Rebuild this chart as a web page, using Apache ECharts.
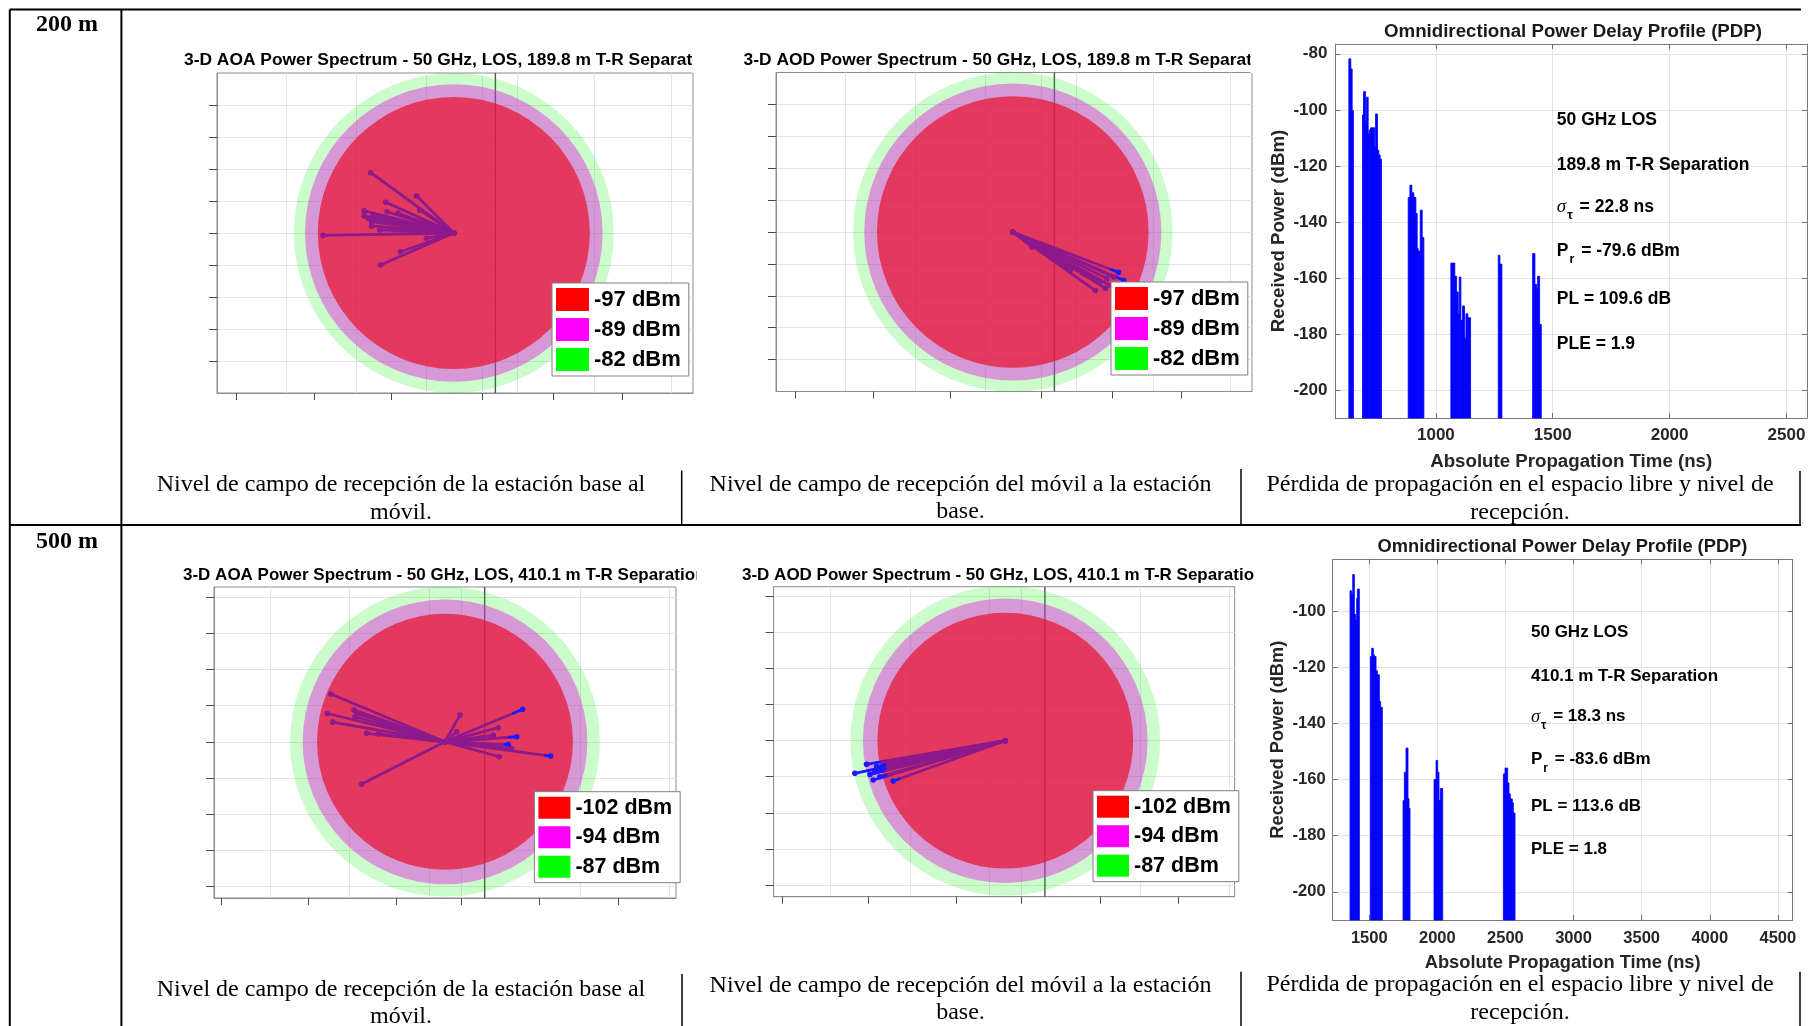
<!DOCTYPE html>
<html lang="es">
<head>
<meta charset="utf-8">
<title>Espectro de potencia 3-D y perfil de retardo – 50 GHz LOS</title>
<script src="https://cdn.jsdelivr.net/npm/echarts@6.0.0/dist/echarts.min.js"></script>
<style>
html,body{margin:0;padding:0;background:#fff;}
#chart{width:1808px;height:1026px;}
</style>
</head>
<body>
<div id="chart"></div>
<script>
// ---------------- data ----------------
// Contour levels of the 3-D power spectra (dBm): inner (red), middle (magenta), outer (green)
const ringLevels200 = [-97, -89, -82];
const ringLevels500 = [-102, -94, -87];
// Power mapped to zero radius in each spectrum plot (dBm)
const radiusFloor200 = -182;
const radiusFloor500 = -173;

// Multipath rays: [x, y, fraction of the ray from which it lies in front of the inner surface]
const aoaRays200 = [
  [-51.9, 37.7, 1], [-23.3, 23.3, 1], [-42.5, 19.2, 1], [-56.0, 13.8, 1], [-56.0, 10.6, 1],
  [-41.7, 13.3, 1], [-51.5, 4.4, 1], [-81.7, -1.5, 1], [-46.3, 1.9, 1], [-33.3, -11.7, 1],
  [-45.8, -20.0, 1], [-17.1, -3.3, 1], [-53.5, 9.2, 1], [-50.4, 11.3, 1], [-34.8, 12.3, 1],
  [-27.5, 4.4, 1], [-51.4, 7.1, 1], [-21.3, 14.4, 1]
];
const aodRays200 = [
  [66.1, -25.3, 0.93], [69.3, -30.3, 0.93], [57.8, -35.2, 1], [51.6, -36.7, 1], [60.9, -33.4, 1],
  [12.0, -9.4, 1], [35.9, -24.0, 1], [54.7, -31.3, 1], [63.0, -28.2, 1], [44.3, -26.0, 1],
  [58.9, -29.2, 1]
];
const aoaRays500 = [
  [-63.4, 26.5, 1], [-65.3, 15.7, 1], [-62.3, 10.9, 1], [-50.5, 17.6, 1], [-49.0, 15.7, 1],
  [-49.9, 13.9, 1], [-37.0, 4.3, 1], [-46.2, -23.5, 1], [8.3, 14.8, 1], [43.1, 18.0, 0.88],
  [39.8, 2.8, 0.9], [35.1, -1.5, 0.94], [58.6, -7.9, 0.95], [30.1, -8.3, 1], [29.6, 7.8, 1],
  [6.5, 5.6, 1], [37.0, -3.7, 1], [26.8, 3.7, 1], [-43.5, 4.7, 1]
];
const aodRays500 = [
  [-83.5, -18.1, 0.8], [-77.0, -13.1, 0.87], [-73.3, -21.8, 0.9], [-62.2, -22.4, 0.95],
  [-75.1, -18.7, 0.9], [-67.7, -12.2, 1], [-72.4, -17.2, 0.92], [-69.6, -20.0, 0.95],
  [-56.6, -10.7, 1], [-64.0, -15.3, 1], [-71.4, -14.4, 0.93]
];

// Tick values of the 3-D views
const spatialTicks = [-80, -60, -40, -20, 0, 20, 40, 60, 80];
const xTicks200 = [-136, -87, -39, 18, 62, 105];
const xGrid200 = [-105, -61, -17.5, 18, 39.5, 88, 136];
const zAxis200 = 26;
const xTicks500 = [-124, -76, -27, 9, 52.5, 96];
const xGrid500 = [-97, -53, -9, 9, 75, 124.5];
const zAxis500 = 22;

// Power delay profiles: [start (ns), end (ns), received power (dBm)]
const pdp200 = [
  [627.5, 636, -81.8], [636, 641.8, -85.4], [641.8, 647.5, -100.3],
  [686, 690.3, -101.8], [690.3, 698.9, -93.5], [698.9, 703, -104], [703, 710.3, -95.5],
  [710.3, 714.6, -108.6], [714.6, 720.3, -107.2], [720.3, 737.4, -106.4], [737.4, 741.7, -113.2],
  [741.7, 750.3, -101.5], [750.3, 756, -114.4], [756, 761.7, -116.1], [761.7, 767.4, -117.6],
  [881.5, 888.7, -131.3], [888.7, 897.2, -126.9], [897.2, 905.8, -129.6], [905.8, 914.4, -131.3],
  [914.4, 920, -137], [920, 924.3, -149.5], [924.3, 932.9, -150.4], [932.9, 941.5, -135.8],
  [941.5, 948.6, -145.6],
  [1064, 1081, -154.7], [1081, 1088.5, -159.4], [1088.5, 1095.6, -165], [1095.6, 1099.9, -173],
  [1099.9, 1107, -159.7], [1107, 1114, -175.2], [1114, 1122.7, -170], [1122.7, 1128.4, -181.5],
  [1128.4, 1137, -172.8], [1137, 1148.4, -174.2],
  [1266.8, 1274, -151.9], [1274, 1282.5, -155.1],
  [1413.8, 1423.8, -151.3], [1423.8, 1431, -162.3], [1431, 1435.2, -163.9], [1435.2, 1443.8, -159.4],
  [1443.8, 1451, -176.6]
];
const pdp500 = [
  [1359, 1371, -92.8], [1371, 1378.6, -94.1], [1378.6, 1390.8, -87], [1390.8, 1400.6, -101.2],
  [1400.6, 1408, -103.2], [1408, 1412.8, -95.5], [1412.8, 1427.5, -92.2],
  [1508.3, 1518, -116.2], [1518, 1530.3, -113.3], [1530.3, 1537.6, -115.6], [1537.6, 1549.9, -116.2],
  [1549.9, 1559.7, -121.3], [1559.7, 1574.4, -122.7], [1574.4, 1584, -132.2], [1584, 1596.4, -134.3],
  [1748, 1757.9, -167.5], [1757.9, 1770, -157.4], [1770, 1784.8, -148.8], [1784.8, 1792.1, -166.8],
  [1792.1, 1799.5, -170.3],
  [1975.7, 1990.4, -160], [1990.4, 2002.6, -153.2], [2002.6, 2012.4, -157.4], [2012.4, 2022.2, -167.4],
  [2022.2, 2039.3, -163.2],
  [2484.6, 2496.9, -158], [2496.9, 2516.5, -155.9], [2516.5, 2526.2, -161.2], [2526.2, 2536, -165.1],
  [2536, 2550.7, -166.9], [2550.7, 2558, -168.3], [2558, 2570.3, -171.9]
];
const pdpTimeTicks200 = [1000, 1500, 2000, 2500];
const pdpPowerTicks200 = [-200, -180, -160, -140, -120, -100, -80];
const pdpTimeTicks500 = [1500, 2000, 2500, 3000, 3500, 4000, 4500];
const pdpPowerTicks500 = [-200, -180, -160, -140, -120, -100];

// Link statistics: [T-R separation (m), RMS delay spread (ns), Pr (dBm), PL (dB), PLE]
const linkStats200 = [189.8, 22.8, -79.6, 109.6, 1.9];
const linkStats500 = [410.1, 18.3, -83.6, 113.6, 1.8];

// ---------------- styling ----------------
const SANS = '"Liberation Sans", Arial, Helvetica, sans-serif';
const SERIF = '"Liberation Serif", "Times New Roman", serif';
const BOX = '#8c8c8c', TICK = '#4a4a4a', GRIDLINE = '#e4e4e4';
const RING_FILL = ['rgba(232,15,44,0.7)', 'rgba(228,34,226,0.45)', 'rgba(0,240,0,0.2)'];
const LEGEND_FILL = ['#ff0000', '#ff00ff', '#00ff00'];
const RAY_BEHIND = '#8c1a8c', RAY_FRONT = '#1a1aff';
const PDP_BLUE = '#0000ff';
const plainNumber = v => String(v);

const grid = [], xAxis = [], yAxis = [], series = [], title = [], legend = [], graphic = [];

function spatialPanel(cfg) {
  const gi = grid.length;
  grid.push({left: cfg.box[0], top: cfg.box[1], width: cfg.box[2], height: cfg.box[3],
    show: true, borderColor: BOX, borderWidth: 1, backgroundColor: 'transparent',
    containLabel: false, outerBoundsMode: 'none'});
  const xi = xAxis.length;
  xAxis.push({type: 'value', gridIndex: gi, position: 'bottom', min: cfg.x[0], max: cfg.x[1],
    axisLine: {show: true, onZero: false, lineStyle: {color: BOX, width: 1}},
    axisTick: {show: true, inside: false, length: 7, customValues: cfg.xTicks, lineStyle: {color: TICK, width: 1}},
    axisLabel: {show: false}, splitLine: {show: false}});
  xAxis.push({type: 'value', gridIndex: gi, position: 'top', min: cfg.x[0], max: cfg.x[1],
    axisLine: {show: false}, axisTick: {show: false, customValues: cfg.xGrid},
    axisLabel: {show: false}, splitLine: {show: true, lineStyle: {color: GRIDLINE, width: 1}}});
  const yi = yAxis.length;
  yAxis.push({type: 'value', gridIndex: gi, position: 'left', min: cfg.y[0], max: cfg.y[1],
    axisLine: {show: true, onZero: false, lineStyle: {color: BOX, width: 1}},
    axisTick: {show: true, inside: false, length: 8, customValues: spatialTicks, lineStyle: {color: TICK, width: 1}},
    axisLabel: {show: false}, splitLine: {show: true, lineStyle: {color: GRIDLINE, width: 1}}});

  // vertical reference axis of the 3-D view
  series.push({type: 'custom', xAxisIndex: xi, yAxisIndex: yi, z: 1, silent: true,
    data: [[cfg.zAxis, 0]], encode: {x: 0, y: 1},
    renderItem(params, api) {
      const p = api.coord([api.value(0), 0]);
      const cs = params.coordSys;
      return {type: 'line', shape: {x1: p[0], y1: cs.y, x2: p[0], y2: cs.y + cs.height},
        style: {stroke: '#505050', lineWidth: 1.4}};
    }});

  // contour discs, outer first
  const radii = cfg.levels.map(v => v - cfg.floor);
  [2, 1, 0].forEach((k, order) => {
    series.push({type: 'custom', name: cfg.levels[k] + ' dBm', xAxisIndex: xi, yAxisIndex: yi,
      z: 2 + order, silent: true, itemStyle: {color: LEGEND_FILL[k]},
      data: [[0, 0, radii[k]]], encode: {x: 0, y: 1},
      renderItem(params, api) {
        const c = api.coord([api.value(0), api.value(1)]);
        const s = api.size([api.value(2), api.value(2)]);
        return {type: 'circle', shape: {cx: c[0], cy: c[1], r: (s[0] + s[1]) / 2},
          style: {fill: RING_FILL[k]}};
      }});
  });

  // rays from the origin
  const innerR = radii[0];
  series.push({type: 'custom', xAxisIndex: xi, yAxisIndex: yi, z: 6, silent: true,
    data: cfg.rays, encode: {x: 0, y: 1},
    renderItem(params, api) {
      const x = api.value(0), y = api.value(1), f = api.value(2);
      const len = Math.hypot(x, y);
      const fb = Math.min(f, innerR / len);
      const o = api.coord([0, 0]), e = api.coord([x, y]), m = api.coord([x * fb, y * fb]);
      const children = [
        {type: 'line', shape: {x1: o[0], y1: o[1], x2: m[0], y2: m[1]},
          style: {stroke: RAY_BEHIND, lineWidth: 2.8, lineCap: 'round'}}
      ];
      if (fb < 1) {
        children.push({type: 'line', shape: {x1: m[0], y1: m[1], x2: e[0], y2: e[1]},
          style: {stroke: RAY_FRONT, lineWidth: 2.8, lineCap: 'round'}});
      }
      children.push({type: 'circle', shape: {cx: e[0], cy: e[1], r: 2.8},
        style: {fill: fb < 1 ? RAY_FRONT : RAY_BEHIND}});
      children.push({type: 'circle', shape: {cx: o[0], cy: o[1], r: 2.6}, style: {fill: RAY_BEHIND}});
      return {type: 'group', children};
    }});

  title.push({text: cfg.title, left: cfg.titlePos[0], top: cfg.titlePos[1], padding: 0, z: 6,
    textStyle: {fontFamily: SANS, fontWeight: 'bold', fontSize: cfg.titleFont, color: '#000', lineHeight: 20}});
  // the neighbouring cell hides the end of the long title
  graphic.push({type: 'rect', z: 8, silent: true,
    shape: {x: cfg.titleCut, y: cfg.titlePos[1] - 3, width: 44, height: 26},
    style: {fill: '#fff'}});

  legend.push({show: true, orient: 'vertical', left: cfg.legendPos[0], top: cfg.legendPos[1], z: 10,
    selectedMode: false, backgroundColor: '#fff', borderColor: '#7f7f7f', borderWidth: 1,
    padding: [5, 8, 5, 4], itemWidth: cfg.legendItem[0], itemHeight: cfg.legendItem[1],
    itemGap: cfg.legendGap, icon: 'rect',
    textStyle: {fontFamily: SANS, fontSize: cfg.legendFont, fontWeight: 'bold', color: '#000',
      lineHeight: cfg.legendItem[1]},
    data: [0, 1, 2].map(k => ({name: cfg.levels[k] + ' dBm', itemStyle: {color: LEGEND_FILL[k], borderWidth: 0}}))});
}

function pdpPanel(cfg) {
  const gi = grid.length;
  grid.push({left: cfg.box[0], top: cfg.box[1], width: cfg.box[2], height: cfg.box[3],
    show: false, containLabel: false, outerBoundsMode: 'none'});
  const tick = {show: true, inside: true, length: 5, lineStyle: {color: '#6e6e6e', width: 1}};
  const line = {show: true, onZero: false, lineStyle: {color: '#7a7a7a', width: 1}};
  const lab = {fontFamily: SANS, fontWeight: 'bold', fontSize: cfg.tickFont, color: '#262626', formatter: plainNumber};
  const nameStyle = {fontFamily: SANS, fontWeight: 'bold', fontSize: cfg.nameFont, color: '#262626'};
  const xi = xAxis.length;
  xAxis.push({type: 'value', gridIndex: gi, position: 'bottom', min: cfg.x[0], max: cfg.x[1],
    axisLine: line, axisTick: Object.assign({customValues: cfg.xTicks}, tick),
    axisLabel: Object.assign({customValues: cfg.xTicks, margin: cfg.xMargin}, lab),
    splitLine: {show: true, lineStyle: {color: '#e3e3e3', width: 1}},
    name: 'Absolute Propagation Time (ns)', nameLocation: 'middle', nameGap: cfg.xNameGap,
    nameMoveOverlap: false, nameTextStyle: nameStyle});
  xAxis.push({type: 'value', gridIndex: gi, position: 'top', min: cfg.x[0], max: cfg.x[1],
    axisLine: line, axisTick: Object.assign({customValues: cfg.xTicks}, tick),
    axisLabel: {show: false}, splitLine: {show: false}});
  const yi = yAxis.length;
  yAxis.push({type: 'value', gridIndex: gi, position: 'left', min: cfg.y[0], max: cfg.y[1],
    axisLine: line, axisTick: Object.assign({customValues: cfg.yTicks}, tick),
    axisLabel: Object.assign({customValues: cfg.yTicks, margin: cfg.yMargin}, lab),
    splitLine: {show: true, lineStyle: {color: '#e3e3e3', width: 1}},
    name: 'Received Power (dBm)', nameLocation: 'middle', nameGap: cfg.yNameGap,
    nameMoveOverlap: false, nameTextStyle: nameStyle});
  yAxis.push({type: 'value', gridIndex: gi, position: 'right', min: cfg.y[0], max: cfg.y[1],
    axisLine: line, axisTick: Object.assign({customValues: cfg.yTicks}, tick),
    axisLabel: {show: false}, splitLine: {show: false}});

  series.push({type: 'custom', xAxisIndex: xi, yAxisIndex: yi, z: 3, silent: true,
    data: cfg.data, encode: {x: [0, 1], y: 2},
    renderItem(params, api) {
      const a = api.coord([api.value(0), api.value(2)]);
      const b = api.coord([api.value(1), api.value(2)]);
      const bottom = params.coordSys.y + params.coordSys.height;
      return {type: 'rect', shape: {x: a[0], y: a[1], width: b[0] - a[0], height: bottom - a[1]},
        style: {fill: PDP_BLUE, stroke: PDP_BLUE, lineWidth: 0.8}};
    }});

  title.push({text: 'Omnidirectional Power Delay Profile (PDP)', left: cfg.titlePos[0], top: cfg.titlePos[1],
    textAlign: 'center', padding: 0,
    textStyle: {fontFamily: SANS, fontWeight: 'bold', fontSize: cfg.nameFont, color: '#1a1a1a', lineHeight: 22}});

  // link statistics
  const s = cfg.stats;
  const f = 'bold ' + cfg.noteFont + 'px ' + SANS;
  const lines = [
    '50 GHz LOS',
    s[0].toFixed(1) + ' m T-R Separation',
    '{s|\u03c3}{t|\u03c4}{n| = ' + s[1].toFixed(1) + ' ns}',
    '{n|P}{t|r}{n| = ' + s[2].toFixed(1) + ' dBm}',
    'PL = ' + s[3].toFixed(1) + ' dB',
    'PLE = ' + s[4].toFixed(1)
  ];
  const rich = {
    s: {fontFamily: SERIF, fontStyle: 'italic', fontSize: cfg.noteFont + 1.5, color: '#000', verticalAlign: 'middle'},
    t: {fontFamily: SANS, fontWeight: 'bold', fontSize: cfg.noteFont - 5, color: '#000',
        padding: [18, 2, 0, 1], verticalAlign: 'middle'},
    n: {fontFamily: SANS, fontWeight: 'bold', fontSize: cfg.noteFont, color: '#000', verticalAlign: 'middle'}
  };
  lines.forEach((txt, i) => {
    graphic.push({type: 'text', x: cfg.noteX, y: cfg.noteY[i], z: 20, silent: true,
      style: {text: txt, font: f, fill: '#000', align: 'left', verticalAlign: 'middle', rich}});
  });
}

// ---------------- panels ----------------
spatialPanel({box: [217, 73, 476, 320], x: [-148, 149.5], y: [-100, 100],
  levels: ringLevels200, floor: radiusFloor200, rays: aoaRays200,
  xTicks: xTicks200, xGrid: xGrid200, zAxis: zAxis200,
  title: '3-D AOA Power Spectrum - 50 GHz, LOS, ' + linkStats200[0] + ' m T-R Separation',
  titlePos: [184, 50], titleFont: 17.4, titleCut: 692.5,
  legendPos: [552, 283], legendItem: [33, 23], legendGap: 7, legendFont: 22});
spatialPanel({box: [776, 72.5, 476, 319], x: [-148, 149.5], y: [-100, 100],
  levels: ringLevels200, floor: radiusFloor200, rays: aodRays200,
  xTicks: xTicks200, xGrid: xGrid200, zAxis: zAxis200,
  title: '3-D AOD Power Spectrum - 50 GHz, LOS, ' + linkStats200[0] + ' m T-R Separation',
  titlePos: [743.6, 50], titleFont: 17.4, titleCut: 1250.5,
  legendPos: [1111, 282], legendItem: [33, 23], legendGap: 7, legendFont: 22});
spatialPanel({box: [214, 587, 462, 311], x: [-128.2, 128.2], y: [-86.7, 85.9],
  levels: ringLevels500, floor: radiusFloor500, rays: aoaRays500,
  xTicks: xTicks500, xGrid: xGrid500, zAxis: zAxis500,
  title: '3-D AOA Power Spectrum - 50 GHz, LOS, ' + linkStats500[0] + ' m T-R Separation',
  titlePos: [183, 565], titleFont: 17, titleCut: 696.5,
  legendPos: [534.4, 791.7], legendItem: [32, 22], legendGap: 7.5, legendFont: 21.5});
spatialPanel({box: [773.6, 586.7, 461, 310], x: [-128.6, 127.3], y: [-86.6, 85.5],
  levels: ringLevels500, floor: radiusFloor500, rays: aodRays500,
  xTicks: xTicks500, xGrid: xGrid500, zAxis: zAxis500,
  title: '3-D AOD Power Spectrum - 50 GHz, LOS, ' + linkStats500[0] + ' m T-R Separation',
  titlePos: [742, 565], titleFont: 17, titleCut: 1254,
  legendPos: [1093, 790.7], legendItem: [32, 22], legendGap: 7.5, legendFont: 21.5});

pdpPanel({box: [1335.4, 44, 471.6, 374], x: [570, 2588], y: [-210, -76.5],
  xTicks: pdpTimeTicks200, yTicks: pdpPowerTicks200, data: pdp200, stats: linkStats200,
  tickFont: 17, nameFont: 18.7, noteFont: 17.5, xMargin: 9, yMargin: 8, xNameGap: 34, yNameGap: 47,
  titlePos: [1573, 21], noteX: 1556.8, noteY: [120, 165, 207, 251, 299, 344]});
pdpPanel({box: [1332.6, 559.3, 460.1, 360.7], x: [1231, 4609], y: [-210, -81.6],
  xTicks: pdpTimeTicks500, yTicks: pdpPowerTicks500, data: pdp500, stats: linkStats500,
  tickFont: 16.5, nameFont: 18.3, noteFont: 17, xMargin: 10, yMargin: 7, xNameGap: 33.5, yNameGap: 45.5,
  titlePos: [1562.5, 535.7], noteX: 1531, noteY: [632.7, 676, 716.7, 759.3, 806, 849.3]});

// ---------------- table frame and captions ----------------
[
  [9.8, 9.5, 1801, 9.5, 2], [9.8, 9.5, 9.8, 1026, 2], [121.4, 9.5, 121.4, 1026, 2],
  [9.8, 525, 1801, 525, 2],
  [681.7, 470.5, 681.7, 525, 1.5], [1241, 469, 1241, 525, 1.5], [1800, 471, 1800, 525, 1.5],
  [682, 974, 682, 1026, 1.5], [1241, 971.7, 1241, 1026, 1.5], [1800, 971.7, 1800, 1026, 1.5]
].forEach(l => graphic.push({type: 'line', z: 30, silent: true,
  shape: {x1: l[0], y1: l[1], x2: l[2], y2: l[3]}, style: {stroke: '#000', lineWidth: l[4]}}));

const rowLabels = [['200 m', 24.5], ['500 m', 541.5]];
rowLabels.forEach(r => graphic.push({type: 'text', x: 36, y: r[1], z: 30, silent: true,
  style: {text: r[0], font: 'bold 24px ' + SERIF, fill: '#000', align: 'left', verticalAlign: 'middle'}}));

const captions = [
  'Nivel de campo de recepción de la estación base al\nmóvil.',
  'Nivel de campo de recepción del móvil a la estación\nbase.',
  'Pérdida de propagación en el espacio libre y nivel de\nrecepción.'
];
const captionPos = [
  [401, 498.7], [960.5, 498], [1520, 498.7],
  [401, 1003.3], [960.5, 999.2], [1520, 998.9]
];
captionPos.forEach((p, i) => graphic.push({type: 'text', x: p[0], y: p[1], z: 30, silent: true,
  style: {text: captions[i % 3], font: '24px ' + SERIF, fill: '#000', align: 'center',
    verticalAlign: 'middle', lineHeight: 27.5}}));

const chart = echarts.init(document.getElementById('chart'), null, {renderer: 'canvas', width: 1808, height: 1026});
chart.setOption({animation: false, backgroundColor: '#fff', tooltip: {show: false},
  grid, xAxis, yAxis, series, title, legend, graphic});
</script>
</body>
</html>
